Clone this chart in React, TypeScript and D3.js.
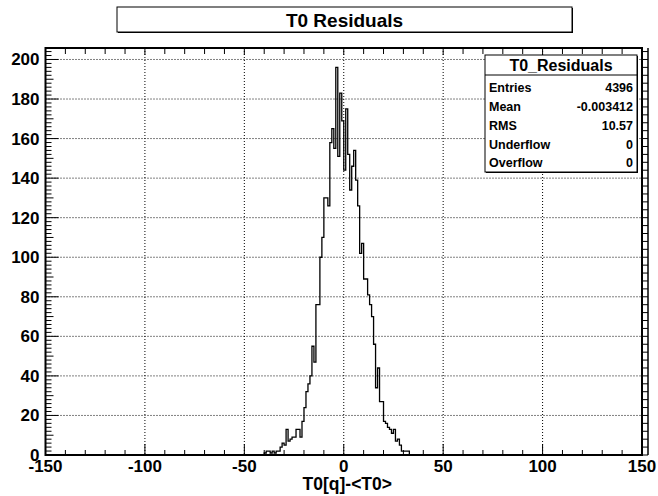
import React from "react";
import * as d3 from "d3";

const title = "T0 Residuals";
const xTitle = "T0[q]-<T0>";
const statsName = "T0_Residuals";
const statLabels = ["Entries", "Mean", "RMS", "Underflow", "Overflow"];
const statValues = ["4396", "-0.003412", "10.57", "0", "0"];

const binStart = -40;
const counts = [
  1, 2, 2, 1, 2, 1, 2, 2, 4, 6,
  5, 13, 7, 8, 9, 9, 13, 13, 9, 17,
  24, 32, 36, 40, 55, 47, 76, 76, 100, 110,
  130, 130, 126, 158, 165, 155, 196, 151, 183, 169,
  144, 175, 152, 134, 146, 154, 139, 126, 102, 107,
  89, 89, 81, 76, 70, 56, 34, 44, 27, 27,
  17, 16, 14, 13, 11, 13, 7, 8, 5, 2,
  2, 2, 2,
];
const xTicks = [-150, -100, -50, 0, 50, 100, 150];
const yTicks = [0, 20, 40, 60, 80, 100, 120, 140, 160, 180, 200];

const W = 658, H = 496;
const FL = 45.5, FR = 642, FT = 48, FB = 455;
const FONT = "'Liberation Sans', Arial, Helvetica, sans-serif";

export default function App() {
  const x = d3.scaleLinear().domain([-150, 150]).range([FL, FR]);
  const y = d3.scaleLinear().domain([0, 205.8]).range([FB, FT]);

  const pts: [number, number][] = [[-150, 0]];
  counts.forEach((c, i) => pts.push([binStart + i, c]));
  pts.push([binStart + counts.length, 0]);
  pts.push([150, 0]);
  const line = d3
    .line<[number, number]>()
    .x((d) => x(d[0]))
    .y((d) => y(d[1]))
    .curve(d3.curveStepAfter);

  const yMinor = d3.range(0, 205.8, 2);
  const xMinor = d3.range(-150, 150.01, 10);
  const rightTicks = d3.range(0, 205.8, 4);

  const sx0 = 485, sx1 = 637, sy0 = 55, sy1 = 172;
  const rowBase = [92, 111, 130, 149, 167];

  return (
    <svg
      width={W}
      height={H}
      style={{ position: "absolute", left: 0, top: 0, background: "#fff" }}
      fontFamily={FONT}
    >
      <rect x={0} y={0} width={W} height={H} fill="#fff" />
      {/* title box */}
      <rect x={118} y={8} width={455} height={25} fill="#000" />
      <rect x={117} y={7} width={455} height={25} fill="#fff" stroke="#000" strokeWidth={1} />
      <text x={344.5} y={26.5} textAnchor="middle" fontSize={19} fontWeight="bold">
        {title}
      </text>

      {/* grid */}
      {xTicks.slice(1, -1).map((t) => (
        <line key={"gx" + t} x1={x(t)} x2={x(t)} y1={FT} y2={FB} stroke="#000" strokeWidth={1} strokeDasharray="1 2" />
      ))}
      {yTicks.slice(1).map((t) => (
        <line key={"gy" + t} x1={FL} x2={FR} y1={y(t)} y2={y(t)} stroke="#000" strokeWidth={1} strokeDasharray="1 2" />
      ))}

      {/* histogram */}
      <path d={line(pts) || ""} fill="none" stroke="#000" strokeWidth={1.3} />

      {/* left axis ticks */}
      {yMinor.map((t) => {
        const major = Math.abs(t % 20) < 1e-6;
        const mid = Math.abs(t % 10) < 1e-6;
        const len = major ? 13 : mid ? 8 : 6;
        return <line key={"ly" + t} x1={FL} x2={FL + len} y1={y(t)} y2={y(t)} stroke="#000" strokeWidth={1} />;
      })}
      {/* right ladder */}
      {rightTicks.map((t) => (
        <line key={"ry" + t} x1={FR} x2={FR + 6} y1={y(t)} y2={y(t)} stroke="#000" strokeWidth={1} />
      ))}
      <line x1={FR + 6} x2={FR + 6} y1={FT} y2={FB} stroke="#000" strokeWidth={1.5} />

      {/* bottom & top ticks */}
      {xMinor.map((t) => {
        const major = Math.abs(t % 50) < 1e-6;
        const len = major ? 11 : 5;
        return (
          <g key={"tx" + t}>
            <line x1={x(t)} x2={x(t)} y1={FB} y2={FB - len} stroke="#000" strokeWidth={1} />
            <line x1={x(t)} x2={x(t)} y1={FT} y2={FT + (major ? 7 : 6)} stroke="#000" strokeWidth={1} />
          </g>
        );
      })}

      {/* frame */}
      <rect x={FL} y={FT} width={FR - FL} height={FB - FT} fill="none" stroke="#000" strokeWidth={2} />

      {/* tick labels */}
      {yTicks.map((t) => (
        <text key={"yl" + t} x={39.5} y={y(t) + 6} textAnchor="end" fontSize={17} fontWeight="bold">
          {t}
        </text>
      ))}
      {xTicks.map((t) => (
        <text key={"xl" + t} x={x(t)} y={472} textAnchor="middle" fontSize={17} fontWeight="bold">
          {t}
        </text>
      ))}
      <text x={392} y={489.5} textAnchor="end" fontSize={17.5} fontWeight="bold">
        {xTitle}
      </text>

      {/* stats box */}
      <rect x={sx0 + 1} y={sy0 + 1} width={sx1 - sx0} height={sy1 - sy0} fill="#000" />
      <rect x={sx0} y={sy0} width={sx1 - sx0} height={sy1 - sy0} fill="#fff" stroke="#000" strokeWidth={1} />
      <line x1={sx0} x2={sx1} y1={75} y2={75} stroke="#000" strokeWidth={1} />
      <text x={(sx0 + sx1) / 2} y={71} textAnchor="middle" fontSize={16} fontWeight="bold">
        {statsName}
      </text>
      {statLabels.map((l, i) => (
        <g key={l}>
          <text x={sx0 + 4} y={rowBase[i]} fontSize={12.5} fontWeight="bold">
            {l}
          </text>
          <text x={sx1 - 4} y={rowBase[i]} textAnchor="end" fontSize={12.5} fontWeight="bold">
            {statValues[i]}
          </text>
        </g>
      ))}
    </svg>
  );
}
